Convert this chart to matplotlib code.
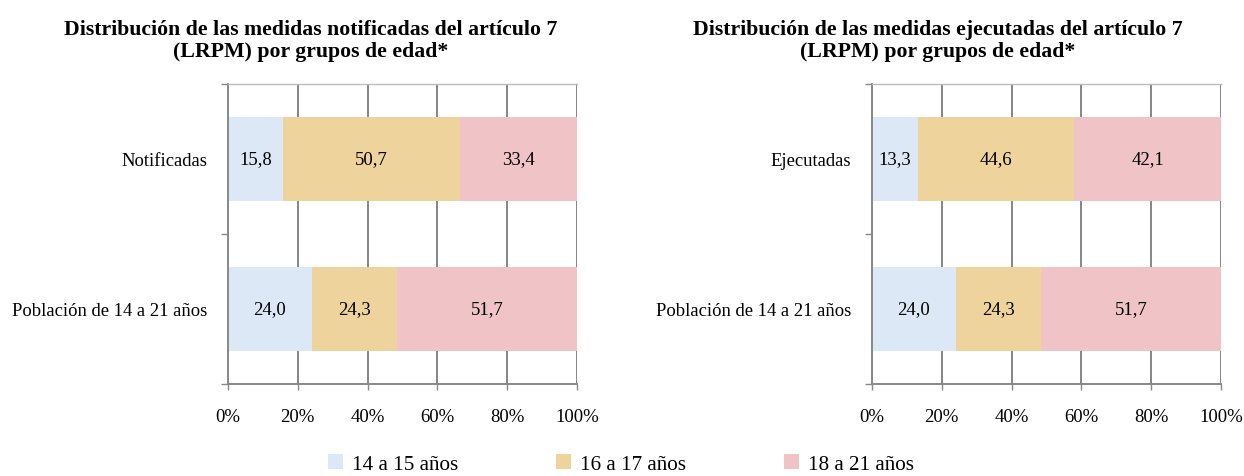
import matplotlib
matplotlib.use("Agg")
import matplotlib.pyplot as plt
from matplotlib.patches import Patch

plt.rcParams['font.family'] = ['Liberation Serif', 'DejaVu Serif']

groups = ["14 a 15 años", "16 a 17 años", "18 a 21 años"]
colors = ["#dce8f6", "#efd39c", "#f0c3c7"]

left_cats = ["Notificadas", "Población de 14 a 21 años"]
left_vals = [[15.8, 50.7, 33.4], [24.0, 24.3, 51.7]]
right_cats = ["Ejecutadas", "Población de 14 a 21 años"]
right_vals = [[13.3, 44.6, 42.1], [24.0, 24.3, 51.7]]
left_title = "Distribución de las medidas notificadas del artículo 7\n(LRPM) por grupos de edad*"
right_title = "Distribución de las medidas ejecutadas del artículo 7\n(LRPM) por grupos de edad*"
xticks = [0, 20, 40, 60, 80, 100]
xticklabels = ["0%", "20%", "40%", "60%", "80%", "100%"]

W, H = 1244, 477
fig = plt.figure(figsize=(W / 100, H / 100), dpi=100)


def make_ax(x0, x1, y0, y1):
    return fig.add_axes([x0 / W, 1 - y1 / H, (x1 - x0) / W, (y1 - y0) / H])


def draw(ax, cats, vals):
    ax.set_xlim(0, 100)
    ax.set_ylim(1.5, -0.5)
    for i, row in enumerate(vals):
        left = 0
        for j, v in enumerate(row):
            ax.barh(i, v, left=left, height=0.56, color=colors[j], edgecolor="none", zorder=2)
            ax.text(left + v / 2, i, f"{v:.1f}".replace(".", ","), ha="center", va="center",
                    fontsize=13.5, color="black", zorder=3)
            left += v
    ax.set_xticks(xticks)
    ax.set_xticklabels(xticklabels, fontsize=13.5)
    ax.set_yticks([0, 1])
    ax.set_yticklabels(cats, fontsize=13.4)
    ax.set_yticks([-0.5, 0.5, 1.5], minor=True)
    ax.tick_params(axis="y", which="major", length=0, pad=15)
    ax.tick_params(axis="y", which="minor", length=5, color="#888888", width=1)
    ax.tick_params(axis="x", length=4, color="#888888", width=1, pad=13)
    ax.grid(axis="x", color="#858585", linewidth=1.4, zorder=1)
    ax.set_axisbelow(True)
    for s in ["left", "bottom"]:
        ax.spines[s].set_color("#888888")
        ax.spines[s].set_linewidth(1.4)
    ax.spines["top"].set_color("#bbbbbb")
    ax.spines["top"].set_linewidth(1.0)
    ax.spines["right"].set_visible(False)


ax1 = make_ax(228, 577, 85, 385)
draw(ax1, left_cats, left_vals)
ax2 = make_ax(872, 1221, 85, 385)
draw(ax2, right_cats, right_vals)

fig.text(311 / W, 1 - 41 / H, left_title, ha="center", va="center", fontsize=15.7,
         fontweight="bold", linespacing=1.17)
fig.text(938 / W, 1 - 41 / H, right_title, ha="center", va="center", fontsize=15.7,
         fontweight="bold", linespacing=1.17)

handles = [Patch(facecolor=c, edgecolor="none") for c in colors]
fig.legend(handles, groups, loc="center", bbox_to_anchor=(621 / W, 1 - 465 / H), ncol=3,
           frameon=False, fontsize=15.2, handlelength=0.72, handleheight=0.72,
           columnspacing=4.6, handletextpad=0.45)

fig.savefig("out.png", dpi=100)
